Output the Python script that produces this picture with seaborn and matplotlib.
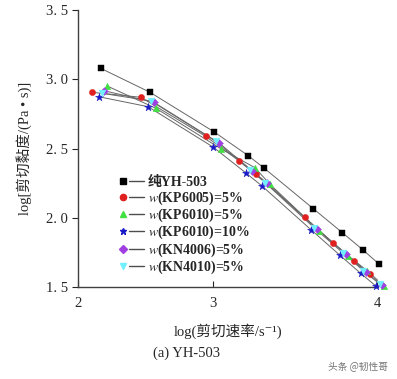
import numpy as np
import pandas as pd
import matplotlib
matplotlib.use("Agg")
import matplotlib.pyplot as plt
from matplotlib.lines import Line2D
from matplotlib.legend_handler import HandlerBase
import seaborn as sns

# ── Data (log shear rate, log shear viscosity) ───────────────────────────────
SERIES = ["纯YH-503", "$w$(KP6005)=5%", "$w$(KP6010)=5%",
          "$w$(KP6010)=10%", "$w$(KN4006)=5%", "$w$(KN4010)=5%"]

x_yh503 = [2.168, 2.533, 3.008, 3.215, 3.313, 3.612, 3.789, 3.913, 4.010]
y_yh503 = [3.079, 2.906, 2.619, 2.448, 2.357, 2.065, 1.892, 1.769, 1.668]

x_kp6005 = [2.101, 2.464, 2.946, 3.160, 3.260, 3.559, 3.734, 3.858, 3.957]
y_kp6005 = [2.906, 2.870, 2.588, 2.410, 2.316, 2.003, 1.816, 1.690, 1.592]

x_kp6010_5 = [2.212, 2.578, 3.051, 3.256, 3.348, 3.646, 3.825, 3.941, 4.044]
y_kp6010_5 = [2.953, 2.790, 2.496, 2.361, 2.241, 1.907, 1.726, 1.616, 1.507]

x_kp6010_10 = [2.153, 2.519, 3.000, 3.201, 3.299, 3.599, 3.774, 3.900, 3.995]
y_kp6010_10 = [2.874, 2.802, 2.511, 2.323, 2.229, 1.912, 1.729, 1.599, 1.505]

x_kn4006 = [2.193, 2.561, 3.035, 3.240, 3.331, 3.632, 3.811, 3.931, 4.032]
y_kn4006 = [2.917, 2.834, 2.542, 2.338, 2.249, 1.921, 1.738, 1.611, 1.512]

x_kn4010 = [2.175, 2.541, 3.016, 3.226, 3.317, 3.618, 3.795, 3.917, 4.018]
y_kn4010 = [2.899, 2.843, 2.552, 2.345, 2.254, 1.926, 1.743, 1.618, 1.519]

XS = [x_yh503, x_kp6005, x_kp6010_5, x_kp6010_10, x_kn4006, x_kn4010]
YS = [y_yh503, y_kp6005, y_kp6010_5, y_kp6010_10, y_kn4006, y_kn4010]

X_TICKS = [2, 3, 4]
Y_TICKS = [1.5, 2.0, 2.5, 3.0, 3.5]

# ── Style ────────────────────────────────────────────────────────────────────
COLORS = ["#000000", "#e02020", "#40e040", "#1a1ac8", "#a040e0", "#70f0ff"]
MARKERS = ["s", "o", "^", "*", "D", "v"]
SIZES = [18, 20, 22, 36, 16, 24]
FONTS = ["Liberation Serif", "DejaVu Serif", "Noto Sans CJK SC"]

sns.set_style("ticks")
plt.rcParams["font.family"] = FONTS
plt.rcParams["mathtext.fontset"] = "stix"

df = pd.concat(
    [pd.DataFrame({"x": xs, "y": ys, "series": name})
     for name, xs, ys in zip(SERIES, XS, YS)],
    ignore_index=True,
)


# the printed x axis is unevenly spaced (2→3 shorter than 3→4)
def _fwd(v):
    v = np.asarray(v, dtype=float)
    return np.where(v < 3, (v - 2) * 135.0, 135.0 + (v - 3) * 164.0)


def _inv(v):
    v = np.asarray(v, dtype=float)
    return np.where(v < 135, 2 + v / 135.0, 3 + (v - 135.0) / 164.0)


class MarkerThenLine(HandlerBase):
    """Legend key drawn as: marker, then a short dash."""

    def create_artists(self, legend, orig, xdescent, ydescent, width, height,
                       fontsize, trans):
        y = height / 2 - ydescent
        ln = Line2D([0.38 * width - xdescent, width - xdescent], [y, y],
                    color="0.3", lw=1.0)
        mk = Line2D([0.14 * width - xdescent], [y], ls="none",
                    marker=orig.get_marker(), markersize=orig.get_markersize(),
                    markerfacecolor=orig.get_markerfacecolor(),
                    markeredgecolor=orig.get_markeredgecolor())
        ln.set_transform(trans)
        mk.set_transform(trans)
        return [ln, mk]


fig = plt.figure(figsize=(3.97, 3.79), dpi=100)
ax = fig.add_axes([78 / 397, 1 - 287 / 379, 300 / 397, 277 / 379])
ax.set_xscale("function", functions=(_fwd, _inv))

sns.lineplot(data=df, x="x", y="y", units="series", estimator=None, sort=False,
             color="0.4", lw=0.7, ax=ax, legend=False)
for name, c, m, s in zip(SERIES, COLORS, MARKERS, SIZES):
    sub = df[df["series"] == name]
    sns.scatterplot(data=sub, x="x", y="y", color=c, marker=m, s=s,
                    edgecolor=c, linewidth=0.3, ax=ax, legend=False,
                    zorder=3, clip_on=False)

ax.set_xlim(2, 4.006)
ax.set_ylim(1.5, 3.5)
ax.set_xticks(X_TICKS)
ax.set_xticklabels([str(t) for t in X_TICKS])
ax.set_yticks(Y_TICKS)
ax.set_yticklabels([f"{t:.1f}".replace(".", ". ") for t in Y_TICKS])
ax.xaxis.set_minor_locator(matplotlib.ticker.NullLocator())
ax.tick_params(axis="x", direction="in", length=4, width=0.8, labelsize=10.5, pad=7)
ax.tick_params(axis="y", direction="out", length=4, width=0.8, labelsize=10.5, pad=3)
for sp in ["top", "right"]:
    ax.spines[sp].set_visible(False)
for sp in ["left", "bottom"]:
    ax.spines[sp].set_linewidth(1.0)
    ax.spines[sp].set_color("0.25")

ax.set_xlabel("log(剪切速率/s\u207b\u00b9)", fontsize=10.5, labelpad=10)
ax.set_ylabel("log[剪切黏度/(Pa • s)]", fontsize=10.5, labelpad=10)

handles = [Line2D([], [], marker=m, markersize=4.5, markerfacecolor=c,
                  markeredgecolor=c)
           for c, m in zip(COLORS, MARKERS)]
leg = ax.legend(handles, SERIES, loc="upper left", bbox_to_anchor=(0.137, 0.40),
                frameon=False, handlelength=1.8, handletextpad=0.25,
                labelspacing=0.0, borderaxespad=0, borderpad=0,
                handler_map={Line2D: MarkerThenLine()},
                prop={"weight": "bold", "size": 10, "family": FONTS})

fig.text(187 / 397, 1 - 353 / 379, "(a) YH-503", ha="center", va="center",
         fontsize=10.5)
fig.text(388 / 397, 1 - 366 / 379, "头条 @韧性哥", ha="right", va="center",
         fontsize=7, color="0.45", family=["Noto Sans CJK SC", "DejaVu Sans"])

fig.savefig("out.png", dpi=100)
